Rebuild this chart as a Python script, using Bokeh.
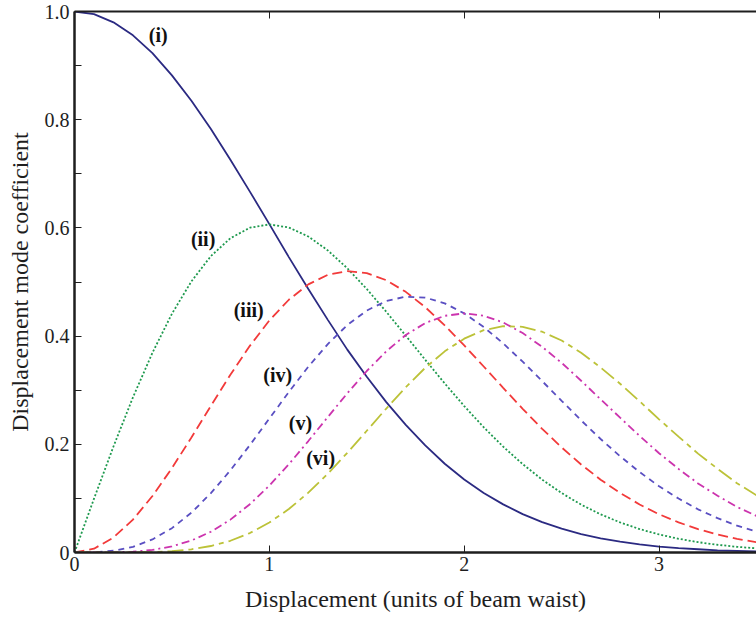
from bokeh.plotting import figure
from bokeh.models import Range1d, LinearAxis, FixedTicker
from bokeh.core.properties import value
from bokeh.embed import file_html
from bokeh.resources import INLINE

# Displacement (units of beam waist)
x = [0.0, 0.1, 0.2, 0.3, 0.4, 0.5, 0.6, 0.7, 0.8, 0.9,
     1.0, 1.1, 1.2, 1.3, 1.4, 1.5, 1.6, 1.7, 1.8, 1.9,
     2.0, 2.1, 2.2, 2.3, 2.4, 2.5, 2.6, 2.7, 2.8, 2.9,
     3.0, 3.1, 3.2, 3.3, 3.4, 3.5]

mode_i = [1.000, 0.995, 0.980, 0.956, 0.923, 0.882, 0.835, 0.783, 0.726, 0.667,
          0.607, 0.546, 0.487, 0.430, 0.375, 0.325, 0.278, 0.236, 0.198, 0.164,
          0.135, 0.110, 0.089, 0.071, 0.056, 0.044, 0.034, 0.026, 0.020, 0.015,
          0.011, 0.008, 0.006, 0.004, 0.003, 0.002]

mode_ii = [0.000, 0.0995, 0.1960, 0.2868, 0.3692, 0.4413, 0.5012, 0.5479, 0.5809, 0.6003,
           0.6065, 0.6007, 0.5841, 0.5584, 0.5254, 0.4870, 0.4449, 0.4008, 0.3562, 0.3125,
           0.2707, 0.2315, 0.1956, 0.1633, 0.1347, 0.1099, 0.0885, 0.0705, 0.0556, 0.0433,
           0.0333, 0.0254, 0.0191, 0.0143, 0.0105, 0.0077]

mode_iii = [0.000, 0.0070, 0.0277, 0.0608, 0.1044, 0.1560, 0.2126, 0.2712, 0.3286, 0.3820,
            0.4289, 0.4672, 0.4956, 0.5133, 0.5201, 0.5165, 0.5033, 0.4818, 0.4534, 0.4198,
            0.3828, 0.3438, 0.3043, 0.2656, 0.2286, 0.1943, 0.1627, 0.1346, 0.1101, 0.0888,
            0.0706, 0.0557, 0.0432, 0.0334, 0.0252, 0.0191]

mode_iv = [0.000, 0.0004, 0.0032, 0.0105, 0.0241, 0.0450, 0.0736, 0.1096, 0.1518, 0.1985,
           0.2476, 0.2967, 0.3434, 0.3853, 0.4204, 0.4473, 0.4649, 0.4729, 0.4712, 0.4605,
           0.4420, 0.4168, 0.3865, 0.3527, 0.3168, 0.2804, 0.2442, 0.2098, 0.1780, 0.1487,
           0.1223, 0.0997, 0.0798, 0.0636, 0.0495, 0.0386]

mode_v = [0.000, 0.0000, 0.0003, 0.0016, 0.0048, 0.0113, 0.0221, 0.0384, 0.0607, 0.0893,
          0.1238, 0.1632, 0.2060, 0.2504, 0.2943, 0.3355, 0.3719, 0.4020, 0.4241, 0.4375,
          0.4420, 0.4376, 0.4252, 0.4056, 0.3802, 0.3505, 0.3175, 0.2832, 0.2492, 0.2156,
          0.1835, 0.1545, 0.1277, 0.1049, 0.0842, 0.0676]

mode_vi = [0.000, 0.0000, 0.0000, 0.0002, 0.0009, 0.0025, 0.0059, 0.0120, 0.0217, 0.0359,
           0.0554, 0.0803, 0.1106, 0.1456, 0.1843, 0.2251, 0.2661, 0.3056, 0.3414, 0.3718,
           0.3953, 0.4110, 0.4183, 0.4172, 0.4081, 0.3919, 0.3692, 0.3420, 0.3120, 0.2796,
           0.2462, 0.2142, 0.1828, 0.1548, 0.1280, 0.1058]

curve_labels = ["(i)", "(ii)", "(iii)", "(iv)", "(v)", "(vi)"]
label_x = [0.43, 0.66, 0.894, 1.043, 1.16, 1.263]
label_y = [0.956, 0.579, 0.449, 0.329, 0.239, 0.175]

x_ticks = [0, 1, 2, 3]
y_ticks = [0, 0.2, 0.4, 0.6, 0.8, 1.0]
y_minor = [0.1, 0.3, 0.5, 0.7, 0.9]

FONT = "Liberation Serif"
INK = "#1e1e1e"

p = figure(width=756, height=619, x_range=Range1d(0, 3.5), y_range=Range1d(0, 1),
           output_backend="svg", toolbar_location=None,
           min_border_left=74, min_border_right=0, min_border_top=11, min_border_bottom=67)
p.outline_line_color = None
p.grid.visible = False
p.background_fill_color = "white"
p.border_fill_color = "white"

series = [
    (mode_i, "#2b2a82", "solid"),
    (mode_ii, "#1f9a4f", "2 2"),
    (mode_iii, "#f23a3a", "10 5"),
    (mode_iv, "#5a4fc2", "6 5"),
    (mode_v, "#cc34ae", "8 4 2 4"),
    (mode_vi, "#bcc238", "16 5 5 5"),
]
for ys, col, dash in series:
    p.line(x, ys, line_color=col, line_width=1.8, line_dash=dash)

p.text(x=label_x, y=label_y, text=curve_labels, text_font=value(FONT),
       text_font_style="bold", text_font_size="20px", text_color="#111111",
       text_align="center", text_baseline="middle")

xa = p.xaxis[0]
xa.ticker = FixedTicker(ticks=x_ticks)
xa.axis_label = "Displacement (units of beam waist)"
ya = p.yaxis[0]
ya.ticker = FixedTicker(ticks=y_ticks, minor_ticks=y_minor)
ya.axis_label = "Displacement mode coefficient"
ya.major_label_overrides = {0: "0", 1: "1.0"}

for ax in (xa, ya):
    ax.axis_line_width = 2.5
    ax.axis_line_color = INK
    ax.major_tick_in = 7
    ax.major_tick_out = 0
    ax.minor_tick_in = 7
    ax.minor_tick_out = 0
    ax.major_tick_line_color = INK
    ax.minor_tick_line_color = INK
    ax.major_tick_line_width = 1
    ax.minor_tick_line_width = 1
    ax.major_label_text_font = FONT
    ax.major_label_text_font_size = "20px"
    ax.major_label_text_color = INK
    ax.axis_label_text_font = FONT
    ax.axis_label_text_font_size = "24px"
    ax.axis_label_text_font_style = "normal"
    ax.axis_label_text_color = INK
xa.major_label_standoff = 4
xa.axis_label_standoff = 12
ya.major_label_standoff = 5
ya.axis_label_standoff = 9

top = LinearAxis(ticker=FixedTicker(ticks=x_ticks))
top.axis_line_width = 2
top.axis_line_color = INK
top.major_tick_in = 7
top.major_tick_out = 0
top.minor_tick_in = 0
top.minor_tick_out = 0
top.major_tick_line_color = INK
top.major_label_overrides = {0: "", 1: "", 2: "", 3: ""}
top.major_label_text_font_size = "1px"
top.major_label_standoff = 0
top.axis_label = None
p.add_layout(top, "above")

open("out.html", "w").write(file_html(p, INLINE))
